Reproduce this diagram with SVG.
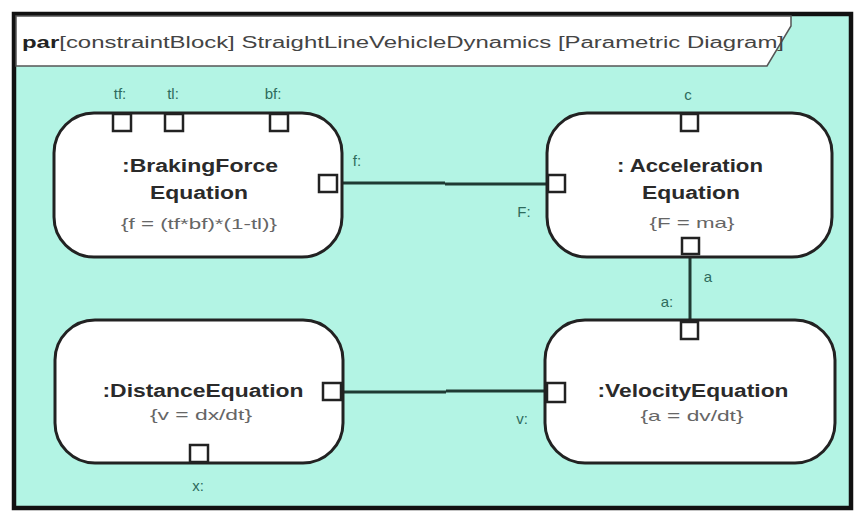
<svg xmlns="http://www.w3.org/2000/svg" width="856" height="512" viewBox="0 0 856 512">
  <defs>
    <style>
      .frame { fill: #b3f4e4; stroke: #111; stroke-width: 4.5; }
      .header { fill: #ffffff; stroke: #555; stroke-width: 1.5; }
      .title { font-family: "Liberation Sans", Arial, sans-serif; font-size: 16px; fill: #444; }
      .block { fill: #ffffff; stroke: #222; stroke-width: 3; }
      .port { fill: #ffffff; stroke: #222; stroke-width: 2.5; }
      .name { font-family: "Liberation Sans", Arial, sans-serif; font-size: 18px; font-weight: bold; fill: #2a2a2a; text-anchor: middle; }
      .expr { font-family: "Liberation Sans", Arial, sans-serif; font-size: 15px; fill: #666; text-anchor: middle; }
      .plabel { font-family: "Liberation Sans", Arial, sans-serif; font-size: 15px; fill: #2e6b5c; text-anchor: middle; }
      .conn { fill: none; stroke: #1f3a33; stroke-width: 3; }
    </style>
  </defs>

  <!-- diagram frame -->
  <rect class="frame" x="14" y="14" width="837" height="494"/>
  <path class="header" d="M16 16 H791 V26 L767 66 H16 Z"/>
  <text class="title" x="22" y="48" textLength="762" lengthAdjust="spacingAndGlyphs"><tspan font-weight="bold" fill="#222">par</tspan>[constraintBlock] StraightLineVehicleDynamics [Parametric Diagram]</text>

  <!-- connectors between ports -->
  <g id="connectors">
    <path class="conn" d="M338 183 H445" stroke-width="4"/>
    <path class="conn" d="M445 184 H548"/>
    <path class="conn" d="M690 254 V322" stroke-width="2.5"/>
    <path class="conn" d="M342 392 H446" stroke-width="3.5"/>
    <path class="conn" d="M446 391 H547"/>
  </g>

  <!-- BrakingForce equation -->
  <g id="brakingForce">
    <rect class="block" x="54" y="113" width="288" height="144" rx="40" ry="40"/>
    <rect class="port" x="113" y="114" width="18" height="17"/>
    <rect class="port" x="165" y="114" width="18" height="17"/>
    <rect class="port" x="270" y="114" width="18" height="17"/>
    <rect class="port" x="319" y="175" width="18" height="17"/>
    <text class="name" x="200" y="172" textLength="156" lengthAdjust="spacingAndGlyphs">:BrakingForce</text>
    <text class="name" x="199" y="199" textLength="98" lengthAdjust="spacingAndGlyphs">Equation</text>
    <text class="expr" x="199" y="229" textLength="156" lengthAdjust="spacingAndGlyphs">{f = (tf*bf)*(1-tl)}</text>
    <text class="plabel" x="120" y="99">tf:</text>
    <text class="plabel" x="173" y="99">tl:</text>
    <text class="plabel" x="273" y="99">bf:</text>
    <text class="plabel" x="357" y="166">f:</text>
  </g>

  <!-- Acceleration equation -->
  <g id="acceleration">
    <rect class="block" x="547" y="113" width="285" height="144" rx="40" ry="40"/>
    <rect class="port" x="681" y="114" width="17" height="17"/>
    <rect class="port" x="548" y="175" width="17" height="17"/>
    <rect class="port" x="682" y="238" width="17" height="16"/>
    <text class="name" x="690" y="172" textLength="146" lengthAdjust="spacingAndGlyphs">: Acceleration</text>
    <text class="name" x="691" y="199" textLength="98" lengthAdjust="spacingAndGlyphs">Equation</text>
    <text class="expr" x="692" y="228" textLength="85" lengthAdjust="spacingAndGlyphs">{F = ma}</text>
    <text class="plabel" x="688" y="100">c</text>
    <text class="plabel" x="524" y="217">F:</text>
  </g>

  <!-- Distance equation -->
  <g id="distance">
    <rect class="block" x="55" y="320" width="288" height="143" rx="40" ry="40"/>
    <rect class="port" x="323" y="383" width="18" height="17"/>
    <rect class="port" x="190" y="445" width="18" height="17"/>
    <text class="name" x="203" y="397" textLength="201" lengthAdjust="spacingAndGlyphs">:DistanceEquation</text>
    <text class="expr" x="201" y="420" textLength="102" lengthAdjust="spacingAndGlyphs">{v = dx/dt}</text>
    <text class="plabel" x="198" y="491">x:</text>
  </g>

  <!-- Velocity equation -->
  <g id="velocity">
    <rect class="block" x="545" y="320" width="290" height="143" rx="40" ry="40"/>
    <rect class="port" x="681" y="322" width="17" height="17"/>
    <rect class="port" x="547" y="383" width="18" height="19"/>
    <text class="name" x="693" y="397" textLength="191" lengthAdjust="spacingAndGlyphs">:VelocityEquation</text>
    <text class="expr" x="692" y="421" textLength="103" lengthAdjust="spacingAndGlyphs">{a = dv/dt}</text>
    <text class="plabel" x="667" y="307">a:</text>
    <text class="plabel" x="708" y="282">a</text>
    <text class="plabel" x="522" y="424">v:</text>
  </g>
</svg>
